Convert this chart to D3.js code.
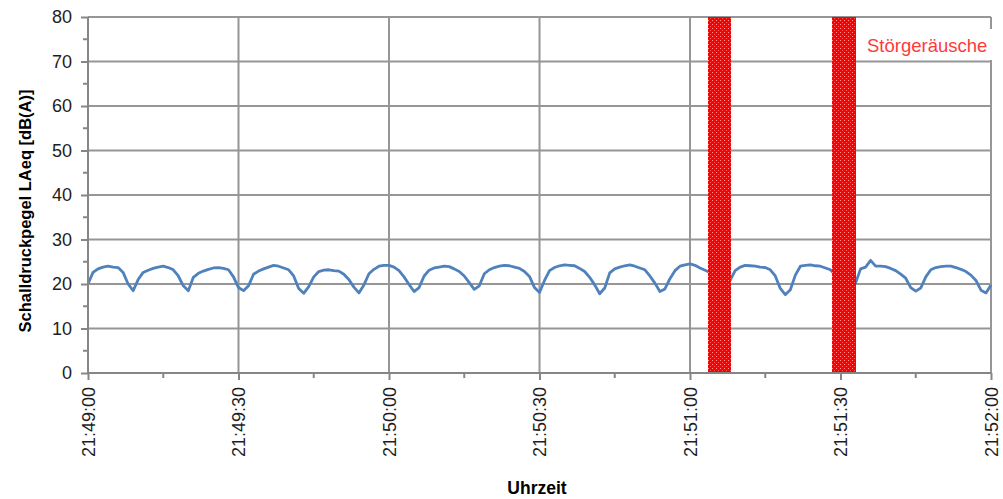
<!DOCTYPE html>
<html>
<head>
<meta charset="utf-8">
<script src="https://cdn.jsdelivr.net/npm/d3@7"></script>
<style>
    body { margin: 0; background: #fff; }
    svg { display: block; font-family: "Liberation Sans", Arial, sans-serif; }
</style>
</head>
<body>
<svg id="chart"></svg>
<script>
// LAeq samples, one per second from 21:49:00
const levels = [
    20.0, 22.6, 23.4, 23.8, 24.0, 23.8, 23.7, 22.6, 20.0, 18.5,
    21.0, 22.6, 23.1, 23.5, 23.8, 24.0, 23.7, 23.2, 21.8, 19.6,
    18.5, 21.5, 22.4, 22.9, 23.3, 23.6, 23.7, 23.5, 23.2, 21.6,
    19.2, 18.5, 19.6, 22.2, 22.9, 23.4, 23.8, 24.2, 24.0, 23.6,
    23.2, 21.8, 19.0, 17.9, 19.4, 21.6, 22.8, 23.1, 23.2, 23.0,
    22.9, 22.2, 21.0, 19.3, 18.0, 19.8, 22.3, 23.3, 24.0, 24.2,
    24.2, 23.8, 23.0, 21.6, 19.9, 18.3, 19.2, 21.8, 23.1, 23.6,
    23.8, 24.0, 23.9, 23.4, 22.8, 21.8, 20.3, 18.8, 19.6, 22.3,
    23.2, 23.7, 24.0, 24.2, 24.1, 23.8, 23.5, 22.8, 21.7, 19.2,
    18.1, 20.8, 23.0, 23.7, 24.1, 24.3, 24.2, 24.1, 23.5, 22.8,
    21.5, 19.8, 17.8, 19.1, 22.5, 23.4, 23.8, 24.1, 24.3, 24.0,
    23.6, 23.2, 21.8, 20.2, 18.3, 18.9, 21.2, 23.0, 24.0, 24.3,
    24.5, 24.2, 23.6, 23.1, 22.6, 20.5, 19.0, 19.5, 20.8, 23.0,
    23.8, 24.2, 24.1, 24.0, 23.8, 23.7, 23.2, 21.8, 19.0, 17.6,
    18.7, 22.0, 24.0, 24.2, 24.3, 24.1, 24.0, 23.6, 23.2, 22.0,
    19.5, 18.5, 19.2, 20.2, 23.4, 23.8, 25.3, 24.0, 24.0, 23.9,
    23.5, 23.0, 22.2, 21.3, 19.2, 18.4, 19.1, 21.6, 23.2, 23.7,
    23.9, 24.0, 24.0, 23.7, 23.3, 22.8, 22.0, 20.8, 18.6, 18.0,
    19.8
];
const startTime = "21:49:00";
const endTime = "21:52:00";
const noiseStarts = ["21:51:03.6", "21:51:28.3"];
const noiseEnds = ["21:51:08.2", "21:51:33.0"];
const noiseLabel = "Störgeräusche";
const yTicks = [0, 10, 20, 30, 40, 50, 60, 70, 80];

const width = 1003;
const height = 499;
const margin = { top: 17, right: 12, bottom: 126, left: 88 };

const parseTime = s => {
    const [h, m, sec] = s.split(":");
    return new Date(2000, 0, 1, +h, +m, 0, Math.round(parseFloat(sec) * 1000));
};
const t0 = parseTime(startTime);
const data = levels.map((v, i) => ({ time: new Date(t0.getTime() + i * 1000), value: v }));

const svg = d3.select("#chart")
    .attr("width", width)
    .attr("height", height);

const xScale = d3.scaleTime()
    .domain([t0, parseTime(endTime)])
    .range([margin.left, width - margin.right]);

const yScale = d3.scaleLinear()
    .domain([0, 80])
    .range([height - margin.bottom, margin.top]);

const gridColor = "#969696";
const axisColor = "#868686";

// speckle overlay for the noise bands
const pattern = svg.append("defs").append("pattern")
    .attr("id", "dots")
    .attr("width", 4)
    .attr("height", 4)
    .attr("patternUnits", "userSpaceOnUse");
pattern.append("rect").attr("x", 0).attr("y", 0).attr("width", 1).attr("height", 1)
    .attr("fill", "#ffffff").attr("opacity", 0.6);
pattern.append("rect").attr("x", 2).attr("y", 2).attr("width", 1).attr("height", 1)
    .attr("fill", "#ffffff").attr("opacity", 0.35);

// horizontal gridlines
svg.append("g")
    .selectAll("line")
    .data(yTicks.filter(d => d > 0))
    .enter()
    .append("line")
    .attr("x1", margin.left)
    .attr("x2", width - margin.right)
    .attr("y1", d => yScale(d))
    .attr("y2", d => yScale(d))
    .attr("stroke", gridColor)
    .attr("stroke-width", 2);

// vertical gridlines
const xMajor = d3.timeSecond.every(30).range(t0, new Date(parseTime(endTime).getTime() + 1));
svg.append("g")
    .selectAll("line")
    .data(xMajor.slice(1))
    .enter()
    .append("line")
    .attr("x1", d => xScale(d))
    .attr("x2", d => xScale(d))
    .attr("y1", margin.top)
    .attr("y2", height - margin.bottom)
    .attr("stroke", gridColor)
    .attr("stroke-width", 2);

// line
const line = d3.line()
    .x(d => xScale(d.time))
    .y(d => yScale(d.value));

svg.append("path")
    .datum(data)
    .attr("d", line)
    .attr("fill", "none")
    .attr("stroke", "#4f81bd")
    .attr("stroke-width", 2.8)
    .attr("stroke-linejoin", "round");

// noise bands
const bands = noiseStarts.map((s, i) => [parseTime(s), parseTime(noiseEnds[i])]);
["#ff0000", "url(#dots)"].forEach(fill => {
    svg.append("g")
        .attr("shape-rendering", "crispEdges")
        .selectAll("rect")
        .data(bands)
        .enter()
        .append("rect")
        .attr("x", d => Math.round(xScale(d[0])))
        .attr("width", d => Math.round(xScale(d[1]) - xScale(d[0])))
        .attr("y", margin.top)
        .attr("height", height - margin.bottom - margin.top)
        .attr("fill", fill);
});

// label box
svg.append("rect")
    .attr("x", 858)
    .attr("y", 29)
    .attr("width", 140)
    .attr("height", 31)
    .attr("fill", "#fff");

svg.append("text")
    .attr("x", 867)
    .attr("y", 52)
    .attr("fill", "#ff3a3a")
    .style("font-size", "18.5px")
    .text(noiseLabel);

// y axis
const yAxis = svg.append("g")
    .attr("transform", `translate(${margin.left}, 0)`)
    .call(d3.axisLeft(yScale).tickValues(yTicks).tickSize(7).tickPadding(9));
yAxis.append("g")
    .selectAll("line")
    .data(d3.range(5, 80, 10))
    .enter()
    .append("line")
    .attr("x1", -5)
    .attr("x2", 0)
    .attr("y1", d => yScale(d))
    .attr("y2", d => yScale(d));

// x axis
const xAxis = svg.append("g")
    .attr("transform", `translate(0, ${height - margin.bottom})`)
    .call(d3.axisBottom(xScale).tickValues(xMajor).tickFormat(d3.timeFormat("%H:%M:%S")).tickSize(7));
xAxis.selectAll(".tick text")
    .attr("transform", "rotate(-90)")
    .attr("text-anchor", "end")
    .attr("x", -14)
    .attr("y", 0)
    .attr("dy", "0.36em");
xAxis.append("g")
    .selectAll("line")
    .data(xMajor.slice(1).map(d => new Date(d.getTime() - 15000)))
    .enter()
    .append("line")
    .attr("x1", d => xScale(d))
    .attr("x2", d => xScale(d))
    .attr("y1", 0)
    .attr("y2", 5);

svg.selectAll(".domain, .tick line, g g line")
    .attr("stroke", axisColor)
    .attr("stroke-width", 2);
yAxis.select(".domain").attr("d", `M0,${margin.top}V${height - margin.bottom}`);
xAxis.select(".domain").attr("d", `M${margin.left},0H${width - margin.right}`);

svg.selectAll(".tick text")
    .attr("fill", "#1e1e1e")
    .style("font-size", "18px")
    .style("font-family", "'Liberation Sans', Arial, sans-serif");

// right border above the label box
svg.append("line")
    .attr("x1", width - margin.right).attr("x2", width - margin.right)
    .attr("y1", margin.top).attr("y2", 29)
    .attr("stroke", gridColor).attr("stroke-width", 2);

// titles
svg.append("text")
    .attr("x", 537)
    .attr("y", 494)
    .attr("text-anchor", "middle")
    .style("font-size", "17.5px")
    .style("font-weight", "bold")
    .text("Uhrzeit");

svg.append("text")
    .attr("transform", "translate(31, 211) rotate(-90)")
    .attr("text-anchor", "middle")
    .style("font-size", "16.5px")
    .style("font-weight", "bold")
    .text("Schalldruckpegel LAeq [dB(A)]");
</script>
</body>
</html>
